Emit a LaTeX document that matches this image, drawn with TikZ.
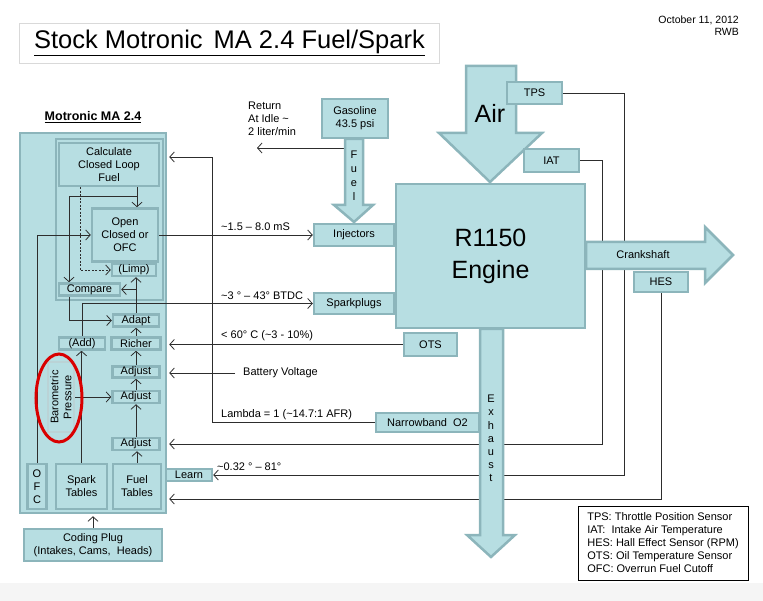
\documentclass[tikz,border=0pt]{standalone}
\usepackage{fontspec}
\setmainfont{Liberation Sans}
\usepackage{tikz}
\usetikzlibrary{arrows.meta}
\definecolor{boxfill}{RGB}{183,222,226}
\definecolor{boxedge}{RGB}{140,181,187}
\definecolor{wire}{RGB}{45,45,45}
\pgfdeclarelayer{back}
\pgfdeclarelayer{wires}
\pgfsetlayers{back,wires,main}
\tikzstyle{blk} = [draw=boxedge, fill=boxfill, line width=2.5pt, align=center, inner sep=0pt]
\tikzstyle{sig} = [draw=wire, line width=0.8pt, -{Straight Barb[length=4.5pt,width=10pt]}]
\tikzstyle{big} = [fill=boxfill, draw=boxedge, line width=2.5pt, line join=miter]
\tikzstyle{lbl} = [anchor=west, inner sep=0pt]
\tikzstyle{huge} = [font=\fontsize{25}{32}\selectfont]

\begin{document}
\begin{tikzpicture}[x=1pt, y=-1pt, font=\fontsize{11}{13}\selectfont]
    \useasboundingbox (0,0) rectangle (763,601);
    \begin{pgfonlayer}{back}
    \fill[black!4] (0,583) rectangle (763,601);
    \node[blk, minimum width=146, minimum height=380](motronic) at (93,323) {};
    \node[blk, minimum width=107, minimum height=161](loop) at (109.5,219.5) {};
    \end{pgfonlayer}

    \node[draw=black!15, line width=0.8pt, minimum width=420, minimum height=40](title) at (229.5,43) {\fontsize{25.5}{30}\selectfont\underline{Stock Motronic\hspace{0.15em} MA 2.4 Fuel/Spark}};
    \node[anchor=north east, align=right, inner sep=0pt, font=\fontsize{10.5}{12}\selectfont](date) at (739,16) {October 11, 2012\\RWB};
    \node[font=\bfseries\fontsize{12.5}{15}\selectfont](mlabel) at (93,117) {\underline{Motronic MA 2.4}};

    \filldraw[big] (466,66) -- (516,66) -- (516,133) -- (542,133) -- (490,182) -- (439,133) -- (466,133) -- cycle;
    \filldraw[big] (586,242) -- (705,242) -- (705,227) -- (733,255) -- (705,283) -- (705,269) -- (586,269) -- cycle;
    \filldraw[big] (345,139) -- (363,139) -- (363,205) -- (373,205) -- (354,222) -- (334,205) -- (345,205) -- cycle;
    \filldraw[big] (480,329) -- (480,535) -- (467,535) -- (491,557) -- (515,535) -- (503,535) -- (503,329) -- cycle;

    \node[blk, minimum width=100, minimum height=43](calc) at (109,164.5) {Calculate\\Closed Loop\\Fuel};
    \node[blk, minimum width=66, minimum height=53](open) at (125,235) {Open\\Closed or\\OFC};
    \node[blk, minimum width=44, minimum height=12](limp) at (134,270) {(Limp)};
    \node[blk, minimum width=61, minimum height=12](compare) at (89.5,289.5) {Compare};
    \node[blk, minimum width=46, minimum height=12](adapt) at (136,320.5) {Adapt};
    \node[blk, minimum width=46, minimum height=12](add) at (82,343.5) {(Add)};
    \node[blk, minimum width=49, minimum height=12](richer) at (136,343.5) {Richer};
    \node[blk, minimum width=47, minimum height=11](adj1) at (136,372) {Adjust};
    \node[blk, minimum width=47, minimum height=12](adj2) at (136,397) {Adjust};
    \node[blk, minimum width=47, minimum height=12](adj3) at (136,444) {Adjust};
    \node[blk, minimum width=48, minimum height=45](ftab) at (137,486.5) {Fuel\\Tables};
    \node[blk, minimum width=51, minimum height=45](stab) at (81.5,486.5) {Spark\\Tables};
    \node[blk, minimum width=19, minimum height=45](ofc) at (37,486.5) {O\\F\\C};
    \node[blk, draw=boxedge!60, line width=1.5pt, rotate=90, minimum width=70, minimum height=26](baro) at (61,397) {Barometric\\Pressure};
    \node[blk, minimum width=138, minimum height=32](coding) at (93,545) {Coding Plug\\(Intakes, Cams,\ \ Heads)};
    \node[blk, minimum width=46, minimum height=12](learn) at (189,475) {Learn};
    \node[blk, minimum width=66, minimum height=39](gas) at (355,118.5) {Gasoline\\43.5 psi};
    \node[blk, minimum width=80, minimum height=22](inj) at (354,235) {Injectors};
    \node[blk, minimum width=80, minimum height=21](spark) at (354,303.5) {Sparkplugs};
    \node[blk, huge, minimum width=189, minimum height=144](engine) at (490.5,256) {R1150\\Engine};
    \node[blk, minimum width=53, minimum height=23](ots) at (430.5,344.5) {OTS};
    \node[blk, minimum width=103, minimum height=19](o2) at (427.5,422.5) {Narrowband\ \ O2};
    \node[blk, minimum width=55, minimum height=22](tps) at (534.5,93) {TPS};
    \node[blk, minimum width=55, minimum height=23](iat) at (551.5,160.5) {IAT};
    \node[blk, minimum width=54, minimum height=20](hes) at (661,282) {HES};

    \node[huge](airlbl) at (490,113) {Air};
    \node(cranklbl) at (643,255) {Crankshaft};
    \node[align=center, font=\fontsize{11}{14}\selectfont](fuellbl) at (354,176) {F\\u\\e\\l};
    \node[align=center, font=\fontsize{11}{13.2}\selectfont](exhlbl) at (491,438.5) {E\\x\\h\\a\\u\\s\\t};
    \node[anchor=north west, align=left, inner sep=0pt](retlbl) at (248,102) {Return\\At Idle \textasciitilde\\2 liter/min};

    \node[lbl](injlbl) at (221,227) {\textasciitilde1.5 – 8.0 mS};
    \node[lbl](sparklbl) at (221,296) {\textasciitilde3 ° – 43° BTDC};
    \node[lbl](otslbl) at (221,336) {< 60° C (\textasciitilde3 - 10\%)};
    \node[lbl, inner xsep=8pt](batt) at (235,373) {Battery Voltage};
    \node[lbl](lamlbl) at (221,415) {Lambda = 1 (\textasciitilde14.7:1 AFR)};
    \node[lbl](tpslbl) at (217,467) {\textasciitilde0.32 ° – 81°};

    \node[draw=black, line width=0.8pt, fill=white, align=left, minimum width=170, minimum height=74](legend) at (663,543) {TPS: Throttle Position Sensor\\IAT:\ \ Intake Air Temperature\\HES: Hall Effect Sensor (RPM)\\OTS: Oil Temperature Sensor\\OFC: Overrun Fuel Cutoff};

    \draw[red!85!black, line width=3pt] (59,398) ellipse [x radius=23, y radius=44];

    \coordinate (split) at (137,196);
    \coordinate (lam) at (212,157);
    \coordinate (fuelL) at (345,148);
    \coordinate (ret) at (257,148);
    \coordinate (fin) at (137,499);
    \begin{pgfonlayer}{wires}
    \draw[sig] (split |- calc.south) -- (split |- open.north);
    \draw[sig] (split) -| ([xshift=-20.5pt]compare.north);
    \draw[sig, dash pattern=on 2pt off 1.5pt] ([xshift=-29pt]calc.south) |- (limp.west);
    \draw[sig] (ofc.north) |- (open.west);
    \draw[sig] (open.east) -- (inj.west);
    \draw[sig] (adapt.north) -- (adapt.north |- limp.south);
    \draw[sig] (adapt.north |- compare.east) -- (compare.east);
    \draw[sig] ([xshift=-20.5pt]compare.south) |- (adapt.west);
    \draw[sig] (stab.north) -- (stab.north |- add.south);
    \draw[sig] (add.north) |- (spark.west);
    \foreach \a/\b in {ftab/adj3, adj3/adj2, adj2/adj1, adj1/richer, richer/adapt}
        \draw[sig] (\a.north) -- (\a.north |- \b.south);
    \draw[sig] (baro.south) -- (adj2.west);
    \draw[sig, shorten >=2pt] (ots.west) -- (ots.west -| motronic.east);
    \draw[sig, shorten >=2pt] (batt.west) -- (batt.west -| motronic.east);
    \draw[sig, shorten >=2pt] (o2.west) -| (lam) -- (lam -| motronic.east);
    \draw[sig, shorten >=2pt] (iat.east) -- ++(22,0) |- (adj3.east -| motronic.east);
    \draw[sig] (tps.east) -- ++(61,0) |- (learn.east);
    \draw[sig, shorten >=2pt] (hes.south) |- (fin -| motronic.east);
    \draw[sig] (fuelL) -- (ret);
    \draw[sig, shorten >=2pt] (coding.north) -- (coding.north |- motronic.south);
    \end{pgfonlayer}
\end{tikzpicture}
\end{document}
